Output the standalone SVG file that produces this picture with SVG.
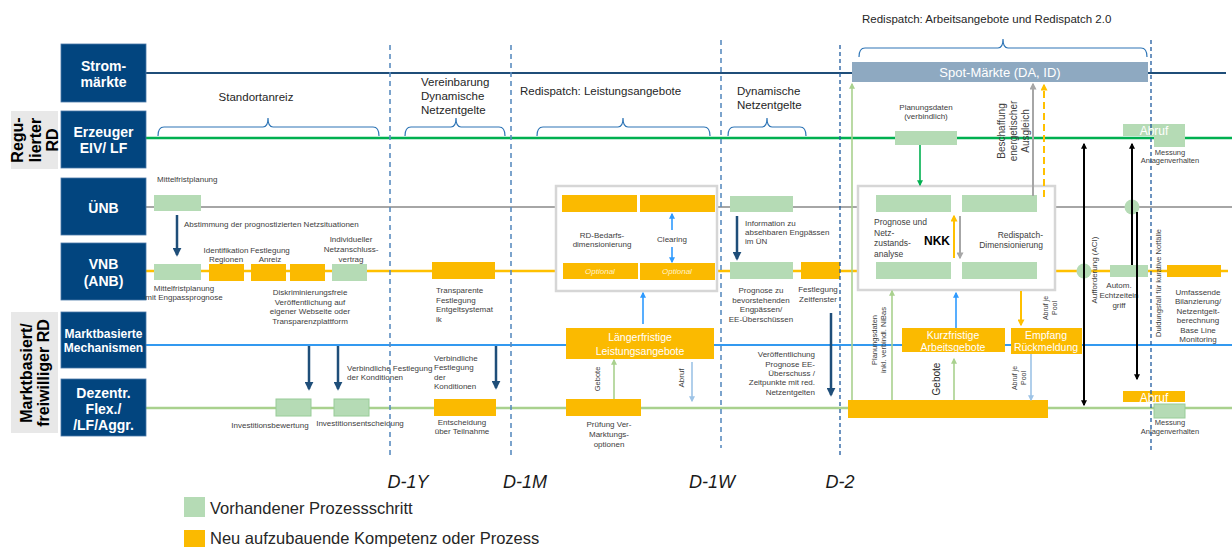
<svg xmlns="http://www.w3.org/2000/svg" width="1232" height="547" viewBox="0 0 1232 547">
<defs>
<style>
text{font-family:"Liberation Sans",Arial,sans-serif}
.lbl{fill:#fff;font-weight:bold;font-size:14px;text-anchor:middle}
.side{fill:#000;font-weight:bold;font-size:16px;text-anchor:middle}
.navy{fill:#02457F;stroke:#4A78A8;stroke-width:0.8}
.g{fill:#B5DBB5}
.gb{fill:#B5DBB5;stroke:#98CC98;stroke-width:1}
.o{fill:#FBBA00}
.s{font-size:8px;fill:#404040}
.m{text-anchor:middle}
.e{text-anchor:end}
.h{font-size:11.5px;fill:#262626}
.w{fill:#fff;text-anchor:middle;font-size:10.5px}
.opt{fill:#FFF3CC;font-size:8px;font-style:italic;text-anchor:middle}
.dash1{stroke:#5B8DC0;stroke-width:1.6;stroke-dasharray:5 4;fill:none}
.dash2{stroke:#1F5A9E;stroke-width:1.3;stroke-dasharray:4 3;fill:none}
.brace{fill:none;stroke:#2E75B6;stroke-width:1.2}
.frame{fill:#fff;stroke:#D6D6D6;stroke-width:2.5}
.dl{font-size:18px;font-style:italic;fill:#1a1a1a;text-anchor:middle}
.leg{font-size:16.5px;fill:#262626}
</style>
<marker id="aNavy" viewBox="0 0 10 10" refX="8" refY="5" markerWidth="9" markerHeight="9" markerUnits="userSpaceOnUse" orient="auto"><path d="M0,0 L10,5 L0,10 z" fill="#1F4E79"/></marker>
<marker id="aBlue" viewBox="0 0 10 10" refX="8" refY="5" markerWidth="6" markerHeight="6" markerUnits="userSpaceOnUse" orient="auto"><path d="M0,0 L10,5 L0,10 z" fill="#2E9AFE"/></marker>
<marker id="aLBlue" viewBox="0 0 10 10" refX="8" refY="5" markerWidth="6" markerHeight="6" markerUnits="userSpaceOnUse" orient="auto"><path d="M0,0 L10,5 L0,10 z" fill="#9DC3E6"/></marker>
<marker id="aGreen" viewBox="0 0 10 10" refX="8" refY="5" markerWidth="6" markerHeight="6" markerUnits="userSpaceOnUse" orient="auto"><path d="M0,0 L10,5 L0,10 z" fill="#00B050"/></marker>
<marker id="aLGreen" viewBox="0 0 10 10" refX="8" refY="5" markerWidth="6" markerHeight="6" markerUnits="userSpaceOnUse" orient="auto"><path d="M0,0 L10,5 L0,10 z" fill="#A9D18E"/></marker>
<marker id="aGrey" viewBox="0 0 10 10" refX="8" refY="5" markerWidth="7" markerHeight="7" markerUnits="userSpaceOnUse" orient="auto"><path d="M0,0 L10,5 L0,10 z" fill="#A6A6A6"/></marker>
<marker id="aOrange" viewBox="0 0 10 10" refX="8" refY="5" markerWidth="7" markerHeight="7" markerUnits="userSpaceOnUse" orient="auto"><path d="M0,0 L10,5 L0,10 z" fill="#FFC000"/></marker>
<marker id="aBlack" viewBox="0 0 10 10" refX="8" refY="5" markerWidth="6" markerHeight="6" markerUnits="userSpaceOnUse" orient="auto-start-reverse"><path d="M0,0 L10,5 L0,10 z" fill="#000"/></marker>
</defs>
<rect width="1232" height="547" fill="#fff"/>

<g id="swimlanes">
<line x1="146" y1="73" x2="1226" y2="73" stroke="#1F4E79" stroke-width="2"/>
<line x1="146" y1="138" x2="1232" y2="138" stroke="#00B050" stroke-width="2.5"/>
<line x1="146" y1="207" x2="1232" y2="207" stroke="#A6A6A6" stroke-width="2"/>
<line x1="146" y1="271" x2="1228" y2="271" stroke="#FFC000" stroke-width="2.5"/>
<line x1="146" y1="345" x2="1232" y2="345" stroke="#3399F0" stroke-width="2"/>
<line x1="146" y1="408" x2="1232" y2="408" stroke="#A9D18E" stroke-width="2.5"/>
</g>

<g id="side-labels">
<rect x="11" y="111" width="47" height="58" fill="#E8E8E8"/>
<text class="side" transform="translate(0,140) rotate(-90)"><tspan x="0" y="23">Regu-</tspan><tspan x="0" y="41">lierter</tspan><tspan x="0" y="58">RD</tspan></text>
<rect x="11" y="312" width="47" height="121" fill="#E8E8E8"/>
<text class="side" transform="translate(0,373) rotate(-90)"><tspan x="0" y="32">Marktbasiert/</tspan><tspan x="0" y="49">freiwilliger RD</tspan></text>
</g>

<g id="row-strommaerkte"><rect class="navy" x="61" y="44" width="85" height="58"/><text class="lbl"><tspan x="103.5" y="71">Strom-</tspan><tspan x="103.5" y="87">märkte</tspan></text></g>
<g id="row-erzeuger"><rect class="navy" x="61" y="111" width="85" height="57"/><text class="lbl"><tspan x="103.5" y="137">Erzeuger</tspan><tspan x="103.5" y="153">EIV/ LF</tspan></text></g>
<g id="row-uenb"><rect class="navy" x="61" y="178" width="85" height="57"/><text class="lbl" x="103.5" y="213">ÜNB</text></g>
<g id="row-vnb"><rect class="navy" x="61" y="243" width="85" height="57"/><text class="lbl"><tspan x="103.5" y="269">VNB</tspan><tspan x="103.5" y="286">(ANB)</tspan></text></g>
<g id="row-markt"><rect class="navy" x="61" y="312" width="85" height="56"/><text class="lbl" style="font-size:12px"><tspan x="103.5" y="338">Marktbasierte</tspan><tspan x="103.5" y="352">Mechanismen</tspan></text></g>
<g id="row-dezentr"><rect class="navy" x="61" y="379" width="85" height="57"/><text class="lbl"><tspan x="103.5" y="398">Dezentr.</tspan><tspan x="103.5" y="414">Flex./</tspan><tspan x="103.5" y="430">/LF/Aggr.</tspan></text></g>

<g id="phase-braces">
<path class="brace" d="M158,136 Q158,127 164,127 L263,127 Q268,127 268,118 Q268,127 273,127 L373,127 Q379,127 379,136"/>
<text class="h m" x="256" y="101">Standortanreiz</text>
<path class="brace" d="M405,136 Q405,127 411,127 L451,127 Q456,127 456,118 Q456,127 461,127 L499,127 Q505,127 505,136"/>
<text class="h"><tspan x="421" y="86">Vereinbarung</tspan><tspan x="421" y="100">Dynamische</tspan><tspan x="421" y="114">Netzentgelte</tspan></text>
<path class="brace" d="M537,136 Q537,127 543,127 L618,127 Q623,127 623,118 Q623,127 628,127 L704,127 Q710,127 710,136"/>
<text class="h" x="520" y="95">Redispatch: Leistungsangebote</text>
<path class="brace" d="M728,136 Q728,127 734,127 L762,127 Q767,127 767,118 Q767,127 772,127 L800,127 Q806,127 806,136"/>
<text class="h"><tspan x="737" y="95">Dynamische</tspan><tspan x="737" y="109">Netzentgelte</tspan></text>
<path class="brace" d="M859,57 Q859,48 865,48 L998,48 Q1003,48 1003,39 Q1003,48 1008,48 L1141,48 Q1147,48 1147,57"/>
<text class="h" x="862" y="23">Redispatch: Arbeitsangebote und Redispatch 2.0</text>
</g>

<g id="spot-maerkte"><rect x="852" y="62" width="296" height="20" fill="#8EA9C1"/><text x="1000" y="77" fill="#fff" font-size="13" text-anchor="middle">Spot-Märkte (DA, ID)</text></g>

<g id="standort">
<rect class="g" x="154" y="195" width="47" height="16"/>
<text class="s" x="157" y="182">Mittelfristplanung</text>
<text class="s" x="184" y="227">Abstimmung der prognostizierten Netzsituationen</text>
<rect class="g" x="154" y="264" width="47" height="16"/>
<text class="s m"><tspan x="184" y="291">Mittelfristplanung</tspan><tspan x="184" y="300">mit Engpassprognose</tspan></text>
<rect class="o" x="209" y="264" width="35" height="17"/>
<rect class="o" x="251" y="264" width="35" height="17"/>
<rect class="o" x="290" y="264" width="35" height="17"/>
<rect class="g" x="332" y="264" width="35" height="17"/>
<text class="s m"><tspan x="226" y="253">Identifikation</tspan><tspan x="226" y="262">Regionen</tspan></text>
<text class="s m"><tspan x="270" y="253">Festlegung</tspan><tspan x="270" y="262">Anreiz</tspan></text>
<text class="s m"><tspan x="351" y="242">Individueller</tspan><tspan x="351" y="252">Netzanschluss-</tspan><tspan x="351" y="262">vertrag</tspan></text>
<text class="s m"><tspan x="310" y="295">Diskriminierungsfreie</tspan><tspan x="310" y="305">Veröffentlichung auf</tspan><tspan x="310" y="314">eigener Webseite oder</tspan><tspan x="310" y="324">Transparenzplattform</tspan></text>
<text class="s"><tspan x="347" y="371">Verbindliche Festlegung</tspan><tspan x="347" y="380">der Konditionen</tspan></text>
<rect class="gb" x="276" y="399" width="35" height="17"/>
<rect class="gb" x="334" y="399" width="35" height="17"/>
<text class="s m" x="270" y="428">Investitionsbewertung</text>
<text class="s m" x="360" y="426">Investitionsentscheidung</text>
</g>

<g id="netzentgelte-vereinbarung">
<rect class="o" x="432" y="262" width="63" height="17"/>
<text class="s"><tspan x="436" y="293">Transparente</tspan><tspan x="436" y="303">Festlegung</tspan><tspan x="436" y="312">Entgeltsystemat</tspan><tspan x="436" y="322">ik</tspan></text>
<text class="s"><tspan x="434" y="361">Verbindliche</tspan><tspan x="434" y="370">Festlegung</tspan><tspan x="434" y="380">der</tspan><tspan x="434" y="389">Konditionen</tspan></text>
<rect class="o" x="434" y="399" width="62" height="17"/>
<text class="s m"><tspan x="462" y="425">Entscheidung</tspan><tspan x="462" y="434">über Teilnahme</tspan></text>
</g>

<g id="rd-bedarf">
<rect class="frame" x="556" y="186" width="161" height="105"/>
<rect class="o" x="562" y="195" width="75" height="17"/>
<rect class="o" x="640" y="195" width="75" height="17"/>
<rect class="o" x="563" y="263" width="75" height="16"/>
<rect class="o" x="640" y="263" width="75" height="17"/>
<text class="opt" x="600" y="274">Optional</text>
<text class="opt" x="677" y="274">Optional</text>
<text class="s m"><tspan x="602" y="238">RD-Bedarfs-</tspan><tspan x="602" y="247">dimensionierung</tspan></text>
<text class="s m" x="672" y="242">Clearing</text>
</g>

<g id="laengerfristig">
<rect class="o" x="566" y="328" width="148" height="31"/>
<text class="w"><tspan x="640" y="341">Längerfristige</tspan><tspan x="640" y="355">Leistungsangebote</tspan></text>
<rect class="o" x="566" y="399" width="75" height="17"/>
<text class="s m"><tspan x="609" y="427">Prüfung Ver-</tspan><tspan x="609" y="437">Marktungs-</tspan><tspan x="609" y="447">optionen</tspan></text>
<text class="s m" style="font-size:7.5px" transform="translate(600,379) rotate(-90)">Gebote</text>
<text class="s m" transform="translate(684,378) rotate(-90)">Abruf</text>
</g>

<g id="dynamische-netzentgelte">
<rect class="g" x="730" y="196" width="63" height="16"/>
<text class="s"><tspan x="745" y="226">Information zu</tspan><tspan x="745" y="235">absehbaren Engpässen</tspan><tspan x="745" y="244">im ÜN</tspan></text>
<rect class="g" x="730" y="262" width="63" height="17"/>
<rect class="o" x="801" y="262" width="39" height="17"/>
<text class="s m"><tspan x="761" y="293">Prognose zu</tspan><tspan x="761" y="303">bevorstehenden</tspan><tspan x="761" y="312">Engpässen/</tspan><tspan x="761" y="322">EE-Überschüssen</tspan></text>
<text class="s m"><tspan x="818" y="292">Festlegung</tspan><tspan x="818" y="302">Zeitfenster</tspan></text>
<text class="s e"><tspan x="815" y="357">Veröffentlichung</tspan><tspan x="815" y="367">Prognose EE-</tspan><tspan x="815" y="376">Überschuss /</tspan><tspan x="815" y="385">Zeitpunkte mit red.</tspan><tspan x="815" y="395">Netzentgelten</tspan></text>
</g>

<g id="nkk">
<rect class="g" x="895" y="131" width="62" height="14"/>
<text class="s m"><tspan x="926" y="110">Planungsdaten</tspan><tspan x="926" y="119">(verbindlich)</tspan></text>
<rect class="frame" x="858" y="186" width="197" height="104"/>
<rect class="g" x="876" y="195" width="75" height="17"/>
<rect class="g" x="962" y="195" width="75" height="17"/>
<rect class="g" x="876" y="262" width="75" height="17"/>
<rect class="g" x="962" y="262" width="75" height="17"/>
<text class="s" style="font-size:8.5px"><tspan x="874" y="225">Prognose und</tspan><tspan x="874" y="236">Netz-</tspan><tspan x="874" y="246">zustands-</tspan><tspan x="874" y="257">analyse</tspan></text>
<text x="937" y="245" font-size="12" font-weight="bold" fill="#000" text-anchor="middle">NKK</text>
<text class="s e" style="font-size:8.5px"><tspan x="1043" y="238">Redispatch-</tspan><tspan x="1043" y="248">Dimensionierung</tspan></text>
<text class="s m" style="font-size:10px" transform="translate(0,131) rotate(-90)"><tspan x="0" y="1005">Beschaffung</tspan><tspan x="0" y="1017">energetischer</tspan><tspan x="0" y="1029">Ausgleich</tspan></text>
</g>

<g id="kurzfristig">
<rect class="o" x="902" y="328" width="103" height="24"/>
<text class="w"><tspan x="953" y="339">Kurzfristige</tspan><tspan x="953" y="351">Arbeitsgebote</tspan></text>
<rect class="o" x="1011" y="328" width="71" height="26"/>
<text class="w"><tspan x="1046" y="339">Empfang</tspan><tspan x="1046" y="351">Rückmeldung</tspan></text>
<rect class="o" x="848" y="400" width="200" height="18"/>
<text class="s m" style="font-size:7px" transform="translate(0,308) rotate(-90)"><tspan x="0" y="1048">Abruf je</tspan><tspan x="0" y="1057">Pool</tspan></text>
<text class="s m" style="font-size:7px" transform="translate(0,378) rotate(-90)"><tspan x="0" y="1017">Abruf je</tspan><tspan x="0" y="1026">Pool</tspan></text>
<text class="m" font-size="10" fill="#262626" transform="translate(940,379) rotate(-90)">Gebote</text>
<text class="s m" style="font-size:7.5px" transform="translate(0,340) rotate(-90)"><tspan x="0" y="877">Planungsdaten</tspan><tspan x="0" y="886">inkl. verbindl. NiBas</tspan></text>
</g>

<g id="echtzeit">
<circle cx="1084" cy="271" r="7.5" fill="#B5DBB5"/>
<circle cx="1132" cy="207" r="7.5" fill="#B5DBB5"/>
<rect class="g" x="1110" y="265" width="38" height="12"/>
<rect class="o" x="1167" y="265" width="54" height="12"/>
<text class="s m"><tspan x="1119" y="288">Autom.</tspan><tspan x="1119" y="298">Echtzeitein</tspan><tspan x="1119" y="308">griff</tspan></text>
<text class="s m"><tspan x="1198" y="295">Umfassende</tspan><tspan x="1198" y="304">Bilanzierung/</tspan><tspan x="1198" y="314">Netzentgelt-</tspan><tspan x="1198" y="323">berechnung</tspan><tspan x="1198" y="333">Base Line</tspan><tspan x="1198" y="342">Monitoring</tspan></text>
<text class="s m" transform="translate(1097,270) rotate(-90)">Aufforderung (ACI)</text>
<text class="s m" style="font-size:7.5px" transform="translate(1161,283) rotate(-90)">Duldungsfall für kurative Notfälle</text>
</g>

<g id="abruf-top">
<rect class="g" x="1123" y="124" width="62" height="12"/>
<rect class="g" x="1154" y="124" width="31" height="23"/>
<text x="1154" y="135" fill="#fff" font-size="12" text-anchor="middle">Abruf</text>
<text class="s m" style="font-size:7.5px"><tspan x="1170" y="155">Messung</tspan><tspan x="1170" y="163">Anlagenverhalten</tspan></text>
</g>
<g id="abruf-bottom">
<rect class="o" x="1123" y="391" width="62" height="11"/>
<rect class="gb" x="1154" y="404" width="31" height="14"/>
<text x="1154" y="402" fill="#fff" font-size="12" text-anchor="middle">Abruf</text>
<text class="s m" style="font-size:7.5px"><tspan x="1170" y="425">Messung</tspan><tspan x="1170" y="434">Anlagenverhalten</tspan></text>
</g>

<g id="connectors" fill="none">
<g stroke="#1F4E79" stroke-width="2.5" marker-end="url(#aNavy)">
<line x1="177" y1="215" x2="177" y2="255"/>
<line x1="737" y1="216" x2="737" y2="259"/>
<line x1="831" y1="313" x2="831" y2="395"/>
<line x1="309" y1="346" x2="309" y2="389"/>
<line x1="338" y1="346" x2="338" y2="389"/>
<line x1="496" y1="346" x2="496" y2="388"/>
</g>
<g stroke="#2E9AFE" stroke-width="1.6" marker-end="url(#aBlue)">
<line x1="672" y1="230" x2="672" y2="214"/>
<line x1="672" y1="247" x2="672" y2="262"/>
<line x1="643" y1="324" x2="643" y2="293"/>
<line x1="956" y1="328" x2="956" y2="293"/>
</g>
<g stroke="#9DC3E6" stroke-width="1.6" marker-end="url(#aLBlue)">
<line x1="692" y1="362" x2="692" y2="401"/>
<line x1="1031" y1="354" x2="1031" y2="400"/>
</g>
<line x1="920" y1="145" x2="920" y2="185" stroke="#00B050" stroke-width="1.6" marker-end="url(#aGreen)"/>
<g stroke="#A9D18E" stroke-width="1.6" marker-end="url(#aLGreen)">
<line x1="614" y1="399" x2="614" y2="360"/>
<line x1="852" y1="400" x2="852" y2="84"/>
<line x1="892" y1="400" x2="892" y2="291"/>
<line x1="954" y1="400" x2="954" y2="359"/>
</g>
<g stroke="#A6A6A6" stroke-width="2" marker-end="url(#aGrey)">
<line x1="1033" y1="196" x2="1033" y2="84"/>
<line x1="960" y1="216" x2="960" y2="258"/>
</g>
<g stroke="#FFC000" stroke-width="2" marker-end="url(#aOrange)">
<line x1="954" y1="258" x2="954" y2="216"/>
<line x1="1044" y1="197" x2="1044" y2="85" stroke-dasharray="7 4"/>
<line x1="1021" y1="291" x2="1021" y2="325"/>
</g>
<g stroke="#000" stroke-width="2">
<line x1="1084" y1="144" x2="1084" y2="405" marker-start="url(#aBlack)" marker-end="url(#aBlack)"/>
<line x1="1132" y1="265" x2="1132" y2="144" marker-end="url(#aBlack)"/>
<line x1="1137" y1="212" x2="1137" y2="379" marker-end="url(#aBlack)"/>
</g>
</g>

<g id="timeline">
<line class="dash1" x1="390" y1="45" x2="390" y2="455"/>
<line class="dash1" x1="511" y1="45" x2="511" y2="455"/>
<line class="dash1" x1="721" y1="40" x2="721" y2="448"/>
<line class="dash2" x1="840" y1="45" x2="840" y2="455"/>
<line class="dash2" x1="1151" y1="40" x2="1151" y2="452"/>
<text class="dl" x="408" y="488">D-1Y</text>
<text class="dl" x="525" y="488">D-1M</text>
<text class="dl" x="712" y="488">D-1W</text>
<text class="dl" x="840" y="488">D-2</text>
</g>

<g id="legend">
<rect class="g" x="184" y="497" width="21" height="20"/>
<text class="leg" x="210" y="514">Vorhandener Prozessschritt</text>
<rect class="o" x="184" y="530" width="21" height="17"/>
<text class="leg" x="210" y="544">Neu aufzubauende Kompetenz oder Prozess</text>
</g>
</svg>
